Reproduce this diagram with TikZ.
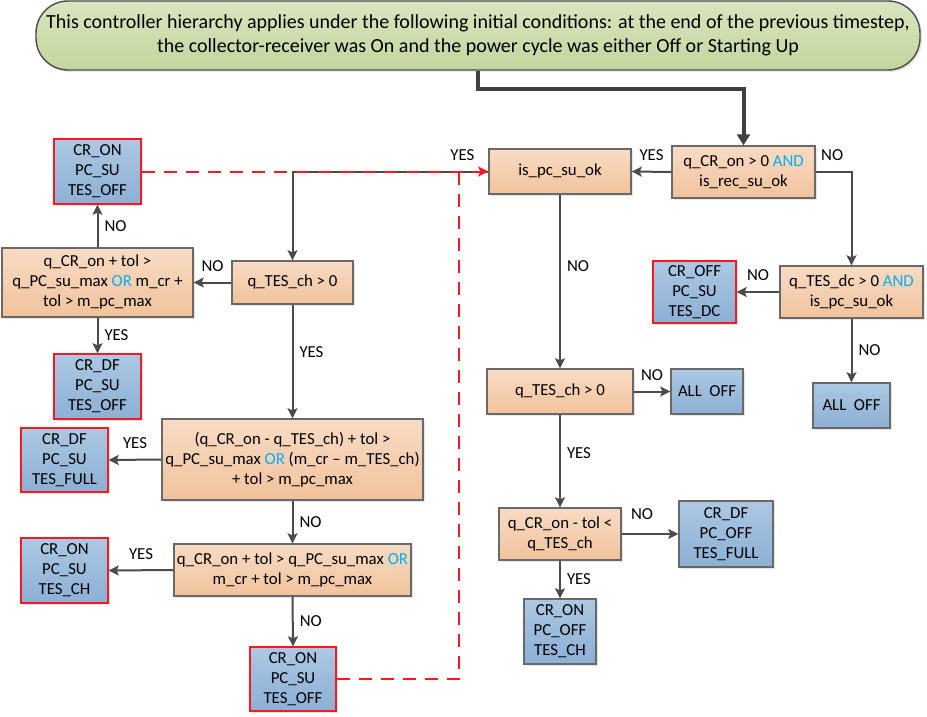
\documentclass[tikz,border=0pt]{standalone}
\usepackage{fontspec}
\setmainfont{Carlito}
\usetikzlibrary{positioning, calc, arrows.meta, shadows}

\definecolor{peachtop}{RGB}{248,219,196}
\definecolor{peachbot}{RGB}{241,195,156}
\definecolor{bluetop}{RGB}{172,200,227}
\definecolor{bluebot}{RGB}{140,175,212}
\definecolor{greentop}{RGB}{217,229,192}
\definecolor{greenbot}{RGB}{196,213,157}
\definecolor{boxgray}{RGB}{105,105,105}
\definecolor{linegray}{RGB}{75,75,75}
\definecolor{resetred}{RGB}{245,25,35}
\definecolor{andblue}{RGB}{0,176,240}

\newcommand{\kw}[1]{\textcolor{andblue}{#1}}

\begin{document}
\begin{tikzpicture}[x=1pt, y=-1pt, font=\fontsize{16.8}{20}\selectfont]
    % Define block styles
    \tikzstyle{block} = [rectangle, draw=boxgray, line width=1.4pt, align=center, inner sep=2pt, drop shadow={shadow xshift=2pt, shadow yshift=-2pt, opacity=0.2}]
    \tikzstyle{decision} = [block, top color=peachtop, bottom color=peachbot]
    \tikzstyle{state} = [block, top color=bluetop, bottom color=bluebot]
    \tikzstyle{reset} = [state, draw=resetred]
    \tikzstyle{banner} = [block, draw=linegray, rounded corners=32pt, top color=greentop, bottom color=greenbot, font=\fontsize{20}{23.5}\selectfont]
    \tikzstyle{arrow} = [draw=linegray, line width=2pt, -{Stealth[length=10pt, width=10pt, inset=2pt]}]
    \tikzstyle{mainarrow} = [draw=linegray!85!black, line width=4pt, -{Triangle[length=11pt, width=13pt]}]
    \tikzstyle{backline} = [draw=resetred, line width=2pt, dash pattern=on 13pt off 9pt]
    \tikzstyle{answer} = [inner sep=1pt]

    \useasboundingbox (0,0) rectangle (927,717);

    % Place nodes
    \node [banner, minimum width=884pt, minimum height=69pt] (start) at (478,35.5) {This controller hierarchy applies under the following initial conditions: at the end of the previous timestep,\\the collector-receiver was On and the power cycle was either Off or Starting Up};

    \node [decision, minimum width=143pt, minimum height=52pt] (cr_check) at (743.5,172) {q\_CR\_on > 0 \kw{AND}\\is\_rec\_su\_ok};
    \node [decision, minimum width=142pt, minimum height=45pt] (pc_check) at (560,171.5) {is\_pc\_su\_ok};
    \node [decision, minimum width=143pt, minimum height=52pt] (dc_check) at (851.5,292) {q\_TES\_dc > 0 \kw{AND}\\is\_pc\_su\_ok};
    \node [reset, minimum width=83pt, minimum height=62pt] (cr_off_dc) at (694.5,292) {CR\_OFF\\PC\_SU\\TES\_DC};
    \node [state, minimum width=77pt, minimum height=45pt] (all_off_right) at (851.5,405.5) {ALL~~OFF};
    \node [decision, minimum width=146pt, minimum height=45pt] (ch_check) at (560,391.5) {q\_TES\_ch > 0};
    \node [state, minimum width=72pt, minimum height=45pt] (all_off_mid) at (707,391.5) {ALL~~OFF};
    \node [decision, minimum width=122pt, minimum height=52pt] (full_check) at (560,534) {q\_CR\_on - tol <\\q\_TES\_ch};
    \node [state, minimum width=94pt, minimum height=66pt] (df_off_full) at (726,534) {CR\_DF\\PC\_OFF\\TES\_FULL};
    \node [state, minimum width=72pt, minimum height=65pt] (on_off_ch) at (560,631.5) {CR\_ON\\PC\_OFF\\TES\_CH};

    \node [reset, minimum width=87pt, minimum height=65pt] (on_su_off_top) at (97.5,171.5) {CR\_ON\\PC\_SU\\TES\_OFF};
    \node [decision, minimum width=191pt, minimum height=69pt] (su_check) at (97.5,282.5) {q\_CR\_on + tol >\\q\_PC\_su\_max \kw{OR} m\_cr +\\tol > m\_pc\_max};
    \node [decision, minimum width=121pt, minimum height=43pt] (ch_check_left) at (292.5,282.5) {q\_TES\_ch > 0};
    \node [reset, minimum width=87pt, minimum height=65pt] (df_su_off) at (97.5,386.5) {CR\_DF\\PC\_SU\\TES\_OFF};
    \node [decision, minimum width=261pt, minimum height=81pt] (net_check) at (292.5,459.5) {(q\_CR\_on - q\_TES\_ch) + tol >\\q\_PC\_su\_max \kw{OR} (m\_cr – m\_TES\_ch)\\+ tol > m\_pc\_max};
    \node [reset, minimum width=87pt, minimum height=64pt] (df_su_full) at (64.5,460) {CR\_DF\\PC\_SU\\TES\_FULL};
    \node [decision, minimum width=237pt, minimum height=52pt] (su_check_low) at (292.5,570) {q\_CR\_on + tol > q\_PC\_su\_max \kw{OR}\\m\_cr + tol > m\_pc\_max};
    \node [reset, minimum width=87pt, minimum height=65pt] (on_su_ch) at (64.5,570.5) {CR\_ON\\PC\_SU\\TES\_CH};
    \node [reset, minimum width=86pt, minimum height=64pt] (on_su_off_low) at (293,679) {CR\_ON\\PC\_SU\\TES\_OFF};

    \coordinate (red_corner) at (459,172);

    % Draw connections as arrows
    \draw [mainarrow] (start.south) -- ++(0,18) -| (cr_check.north);
    \draw [arrow] (cr_check.west) -- node[answer, above=9pt] {YES} (pc_check.east);
    \draw [arrow] (cr_check.east) -| node[answer, above=9pt, pos=0.23] {NO} (dc_check.north);
    \draw [arrow] (dc_check.west) -- node[answer, above=9pt] {NO} (cr_off_dc.east);
    \draw [arrow] (dc_check.south) -- node[answer, right=5pt] {NO} (all_off_right.north);
    \draw [arrow] (pc_check.south) -- node[answer, right=5pt, pos=0.41] {NO} (ch_check.north);
    \draw [arrow] (ch_check.east) -- node[answer, above=9pt] {NO} (all_off_mid.west);
    \draw [arrow] (ch_check.south) -- node[answer, right=5pt, pos=0.41] {YES} (full_check.north);
    \draw [arrow] (full_check.east) -- node[answer, above=12pt, pos=0.36] {NO} (df_off_full.west);
    \draw [arrow] (full_check.south) -- node[answer, right=5pt] {YES} (on_off_ch.north);

    \draw [arrow] (pc_check.west) -| node[answer, above=9pt, pos=0.066] {YES} (ch_check_left.north);
    \draw [arrow] (ch_check_left.west) -- node[answer, above=9pt] {NO} (su_check.east);
    \draw [arrow] (su_check.north) -- node[answer, right=5pt] {NO} (on_su_off_top.south);
    \draw [arrow] (su_check.south) -- node[answer, right=5pt] {YES} (df_su_off.north);
    \draw [arrow] (ch_check_left.south) -- node[answer, right=5pt, pos=0.42] {YES} (net_check.north);
    \draw [arrow] (net_check.west) -- node[answer, above=9pt] {YES} (df_su_full.east);
    \draw [arrow] (net_check.south) -- node[answer, right=5pt] {NO} (su_check_low.north);
    \draw [arrow] (su_check_low.west) -- node[answer, above=9pt] {YES} (on_su_ch.east);
    \draw [arrow] (su_check_low.south) -- node[answer, right=5pt] {NO} (on_su_off_low.north);

    % Return paths back to is_pc_su_ok
    \draw [backline, -{Stealth[length=10pt, width=10pt, inset=2pt]}] (on_su_off_top.east) -- (pc_check.west);
    \draw [backline] (on_su_off_low.east) -| (red_corner);
\end{tikzpicture}
\end{document}
